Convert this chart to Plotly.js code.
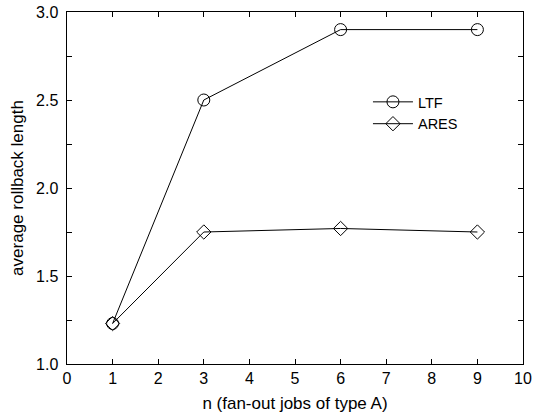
<!DOCTYPE html>
<html><head><meta charset="utf-8">
<script src="https://cdn.plot.ly/plotly-3.0.1.min.js"></script>
<style>html,body{margin:0;padding:0;background:#fff}#c{width:533px;height:413px}</style>
</head><body><div id="c"></div>
<script>
var nValues = [1, 3, 6, 9];
var ltfValues = [1.23, 2.5, 2.9, 2.9];
var aresValues = [1.23, 1.75, 1.77, 1.75];
var xTicks = [0,1,2,3,4,5,6,7,8,9,10];
var yTicks = [1.0, 1.5, 2.0, 2.5, 3.0];
var yTickLabels = ['1.0','1.5','2.0','2.5','3.0'];

var fam = 'Liberation Sans, Arial, sans-serif';
var tickFont = {family: fam, size: 16, color: '#000'};
var titleFont = {family: fam, size: 17, color: '#000'};
var legFont = {family: fam, size: 14.5, color: '#000'};
var traces = [
  {x: nValues, y: ltfValues, name: 'LTF', mode: 'lines+markers', type: 'scatter',
   line: {color: '#000', width: 1},
   marker: {symbol: 'circle-open', size: 12, color: '#000', line: {width: 1}}},
  {x: nValues, y: aresValues, name: 'ARES', mode: 'lines+markers', type: 'scatter',
   line: {color: '#000', width: 1},
   marker: {symbol: 'diamond-open', size: 11, color: '#000', line: {width: 1}}}
];
var layout = {
  width: 533, height: 413,
  margin: {l: 67, r: 10, t: 12, b: 49},
  paper_bgcolor: '#fff', plot_bgcolor: '#fff',
  font: tickFont,
  showlegend: true,
  legend: {x: 0.66, y: 0.79, xanchor: 'left', yanchor: 'top', bgcolor: 'rgba(0,0,0,0)',
           font: legFont, tracegroupgap: 0, itemwidth: 40},
  xaxis: {range: [0, 10], tickvals: xTicks, ticks: 'inside', ticklen: 5, tickcolor: '#000',
          showline: true, linecolor: '#000', linewidth: 1, mirror: 'ticks', showgrid: false,
          zeroline: false, tickfont: tickFont,
          title: {text: 'n (fan-out jobs of type A)', font: titleFont, standoff: 12}},
  yaxis: {range: [1, 3], tickvals: yTicks, ticktext: yTickLabels.map(function(s){return s + '\u00a0';}),
          ticks: 'inside', ticklen: 5,
          tickcolor: '#000', showline: true, linecolor: '#000', linewidth: 1, mirror: 'ticks',
          showgrid: false, zeroline: false, tickfont: tickFont,
          minor: {tickvals: [1.25,1.75,2.25,2.75], ticks: 'inside', ticklen: 5, tickcolor: '#000'},
          title: {text: 'average rollback length', font: titleFont, standoff: 8}}
};
Plotly.newPlot('c', traces, layout, {staticPlot: true});
</script></body></html>
